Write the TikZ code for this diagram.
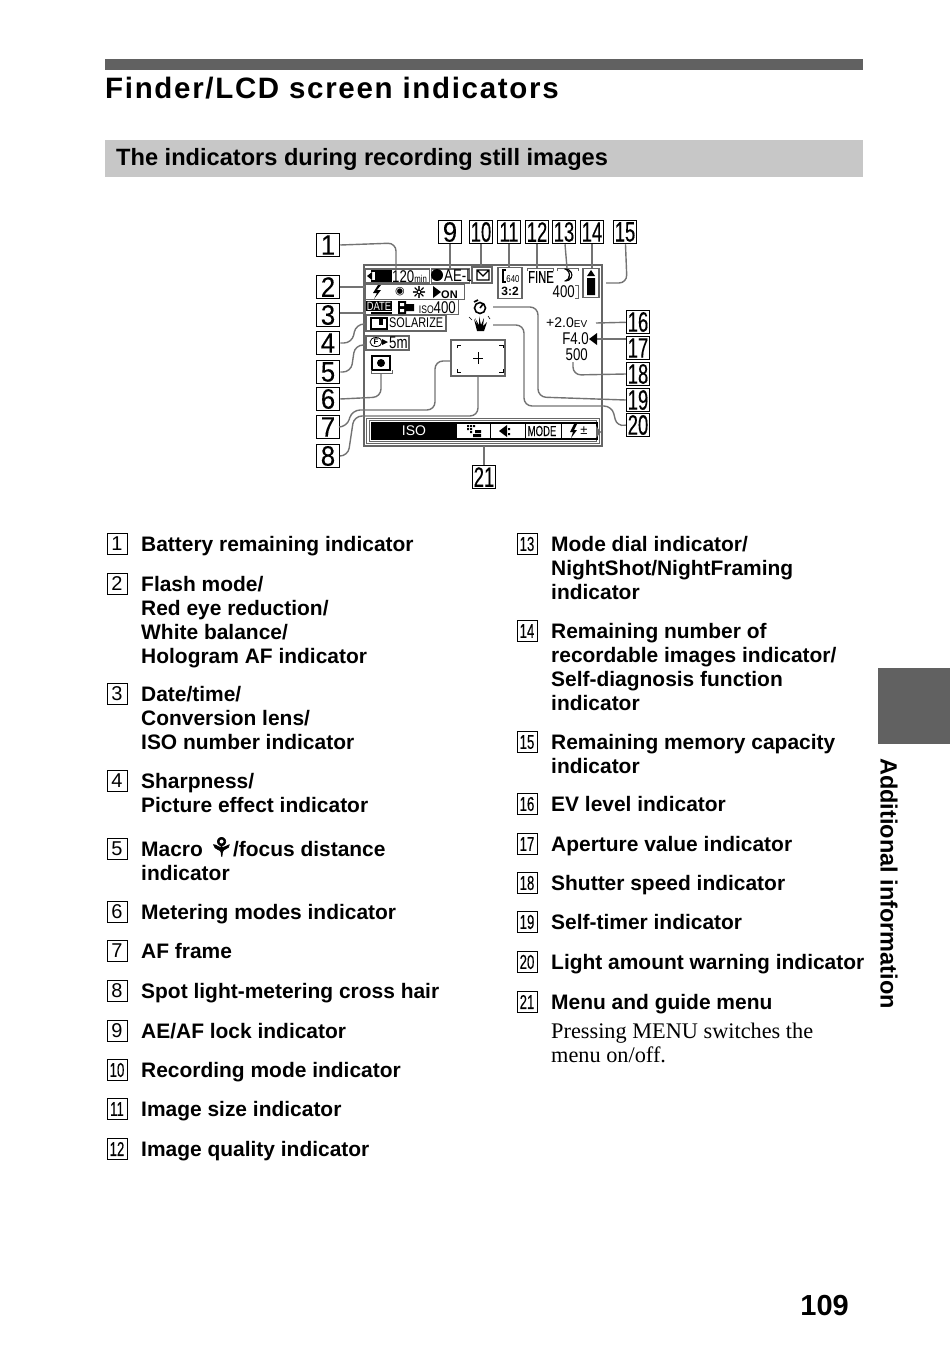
\documentclass[tikz,border=0pt]{standalone}
\usepackage{fontspec}
\setmainfont{Liberation Sans}
\newfontfamily\serfont{Liberation Serif}
\newfontfamily\onefont[FakeStretch=0.92,FakeBold=0.2]{Liberation Sans}
\newfontfamily\twofont[FakeStretch=0.66,FakeBold=0.2]{Liberation Sans}
\newfontfamily\numfont[FakeStretch=0.78]{Liberation Sans}
\newfontfamily\symfont{DejaVu Sans}
\newfontfamily\symbold[FakeBold=2.5]{DejaVu Sans}
\usetikzlibrary{positioning,shapes.geometric}
\definecolor{leader}{gray}{0.45}
\definecolor{lcdline}{gray}{0.4}
\tikzset{
callout/.style={draw=black,line width=1.5pt,fill=white,minimum width=23pt,minimum height=23pt,inner sep=0pt,font=\onefont\fontsize{28}{28}\selectfont},
calloutw/.style={callout,font=\twofont\fontsize{28}{28}\selectfont},
marker/.style={draw=black,line width=0.9pt,minimum width=20pt,minimum height=21pt,inner sep=0pt,font=\fontsize{20}{20}\selectfont},
markerw/.style={marker,font=\twofont\fontsize{20}{20}\selectfont},
item/.style={anchor=north west,inner sep=0pt,align=left,font=\bfseries\fontsize{20.95}{24}\selectfont},
lcd/.style={inner sep=0pt,font=\numfont\fontsize{17}{17}\selectfont},
leaderline/.style={draw=leader,line width=1.4pt,rounded corners=8pt},
lcdbox/.style={draw=lcdline,line width=1.2pt,minimum width=0pt,inner sep=0pt},
}
\begin{document}
\begin{tikzpicture}[x=1pt,y=-1pt]
\useasboundingbox (0,0) rectangle (950,1353);
% heading
\fill[black!62] (105,59) rectangle (863,70);
\node[anchor=base west,inner sep=0pt,font=\bfseries\fontsize{29.5}{30}\selectfont] (title) at (105,98) {\addfontfeature{LetterSpace=5.7}Finder/LCD screen indicators};
\fill[black!22] (105,140) rectangle (863,177);
\node[anchor=base west,inner sep=0pt,font=\bfseries\fontsize{23.6}{24}\selectfont] (subtitle) at (116,165) {The indicators during recording still images};
% side tab
\fill[black!62] (878,668) rectangle (950,744);
\node[rotate=-90,anchor=west,inner sep=0pt,font=\bfseries\fontsize{23.5}{24}\selectfont] (sidetab) at (889,758) {Additional information};
\node[anchor=base east,inner sep=0pt,font=\bfseries\fontsize{29}{29}\selectfont] (pagenum) at (849,1315) {109};
% screen
\draw[lcdline,line width=1.4pt] (364,265) rectangle (602,446);
% callouts
\node[callout] (c1) at (328,245) {1};
\node[callout] (c2) at (328,287) {2};
\node[callout] (c3) at (328,315) {3};
\node[callout] (c4) at (328,343) {4};
\node[callout] (c5) at (328,372) {5};
\node[callout] (c6) at (328,399) {6};
\node[callout] (c7) at (328,427) {7};
\node[callout] (c8) at (328,456) {8};
\node[callout] (c9) at (450,232) {9};
\node[calloutw] (c10) at (481,232) {10};
\node[calloutw] (c11) at (509,232) {11};
\node[calloutw] (c12) at (537,232) {12};
\node[calloutw] (c13) at (564,232) {13};
\node[calloutw] (c14) at (592,232) {14};
\node[calloutw] (c15) at (625,232) {15};
\node[calloutw] (c16) at (638,322) {16};
\node[calloutw] (c17) at (638,348) {17};
\node[calloutw] (c18) at (638,374) {18};
\node[calloutw] (c19) at (638,400) {19};
\node[calloutw] (c20) at (638,425) {20};
\node[calloutw] (c21) at (484,477) {21};
% leaders
\coordinate (e1) at (396,268);
\coordinate (e2) at (366,287);
\coordinate (e3) at (366,313);
\coordinate (e4) at (366,324);
\coordinate (e5) at (366,345);
\coordinate (e6) at (381,373);
\coordinate (e7) at (452,361);
\coordinate (e8) at (478,371);
\coordinate (e15) at (606,283);
\coordinate (e17) at (597,339);
\draw[leaderline] (c1.east) -- (396,243) -- (e1);
\draw[leaderline] (c2) -- (e2);
\draw[leaderline] (c3.east |- e3) -- (e3);
\draw[leaderline] (c4.east) -- (352,343) -- (356,324) -- (e4);
\draw[leaderline] (c5.east) -- (351,372) -- (355,345) -- (e5);
\draw[leaderline] (c6.east) -- (381,397) -- (e6);
\draw[leaderline] (c7.east) -- (347,427) -- (352,410) -- (435,410) -- (435,361) -- (e7);
\draw[leaderline] (c8.east) -- (348,456) -- (354,416) -- (478,416) -- (e8);
\draw[leaderline] (c9) -- (450,269);
\draw[leaderline] (c10) -- (481,267);
\draw[leaderline] (c11) -- (509,267);
\draw[leaderline] (c12) -- (537,268);
\draw[leaderline] (c13) -- (567,268);
\draw[leaderline] (c14) -- (592,268);
\draw[leaderline] (c15) -- (627,283) -- (e15);
\draw[leaderline] (c16) -- (596,323);
\draw[leaderline] (c17.west |- e17) -- (e17);
\draw[leaderline] (c18.west) -- (573,375) -- (573,362);
\draw[leaderline] (c19.west) -- (538,397) -- (538,307) -- (493,307);
\draw[leaderline] (c20.west) -- (617,427) -- (612,406) -- (524,406) -- (524,325) -- (493,325);
\draw[leaderline] (c21) -- (484,446);
% top row
\node[lcdbox,fill=white,minimum width=64pt,minimum height=14pt,anchor=west] (battery) at (365,276) {};
\draw[black,line width=1.2pt] (371,271) -- (391,271) -- (391,281) -- (371,281);
\fill[black] (375,272) rectangle (391,281) (367,276) -- (372,272) -- (372,280) -- cycle;
\node[lcd,anchor=west] (mins) at (392,277) {120\fontsize{10}{10}\selectfont min};
\node[lcdbox,fill=white,minimum width=38pt,minimum height=14pt,anchor=west] (aelock) at (431,276) {};
\fill[black] (437,275) circle (6pt);
\node[lcd,anchor=west] (aetext) at (444,276) {AE-L};
\node[lcdbox,fill=white,minimum width=20pt,minimum height=16pt] (recmode) at (482,275) {};
\draw[black,line width=1.2pt] (477,270) rectangle (489,280) (477,270) -- (483,276) -- (489,270);
\node[lcdbox,fill=white,minimum width=24pt,minimum height=31pt] (imgsize) at (510,283) {};
\draw[black,line width=1.4pt] (506,270) -- (503,270) -- (503,282) -- (506,282);
\node[lcd,font=\numfont\fontsize{10}{10}\selectfont] (sizenum) at (513,279) {640};
\node[lcd,font=\bfseries\fontsize{12}{12}\selectfont] (ratio) at (510,291) {3:2};
\draw[lcdline,line width=1pt] (527,271) -- (527,268) -- (553,268) -- (553,271) (557,271) -- (557,268) -- (578,268) -- (578,271);
\node[lcd,anchor=west,font=\twofont\fontsize{17}{17}\selectfont] (fine) at (528,277) {FINE};
\node[lcd,font=\symbold\fontsize{17}{17}\selectfont] (moon) at (566,275) {\char"263D};
\node[lcd,anchor=east] (remain) at (575,292) {400};
\draw[lcdline,line width=1pt] (575,285) -- (578,285) -- (578,298) -- (575,298);
\node[lcdbox,fill=white,minimum width=16pt,minimum height=29pt] (batt) at (591,283) {};
\fill[black] (587,278) rectangle (595,295) (591,270) -- (587,276) -- (595,276) -- cycle;
% second and third rows
\node[lcdbox,fill=white,minimum width=99pt,minimum height=15pt] (modes) at (415,292) {};
\fill[black] (378,285) -- (373,293) -- (377,293) -- (374,299) -- (381,290) -- (377,290) -- (381,285) -- cycle;
\node[lcd,font=\symfont\fontsize{11}{11}\selectfont] (redeye) at (400,292) {\char"25C9};
\node[lcd,font=\symbold\fontsize{16}{16}\selectfont] (wbal) at (419,292) {\char"263C};
\fill[black] (433,286) -- (441,292) -- (433,298) -- cycle;
\node[lcd,font=\bfseries\fontsize{11}{11}\selectfont,anchor=west] (holoaf) at (441,295) {ON};
\node[lcdbox,fill=white,minimum width=93pt,minimum height=15pt] (daterow) at (412,307) {};
\node[fill=black,text=white,inner sep=1pt,minimum width=26pt,font=\numfont\fontsize{12}{12}\selectfont] (date) at (379,306) {DATE};
\draw[black,line width=1.2pt] (371,313) -- (392,313);
\fill[black] (398,301) rectangle (406,314) (406,304) rectangle (414,311);
\fill[white] (400,303) rectangle (404,306) (400,309) rectangle (404,312);
\node[lcd,anchor=east] (iso) at (456,308) {\fontsize{11}{11}\selectfont ISO\fontsize{17}{17}\selectfont 400};
\node[lcdbox,fill=white,minimum width=80pt,minimum height=16pt] (effect) at (406,323) {};
\node[lcd,anchor=west,font=\numfont\fontsize{14}{14}\selectfont] (solar) at (389,323) {SOLARIZE};
\draw[black,line width=1.2pt] (371,318) rectangle (387,329);
\fill[black] (379,318) rectangle (383,325);
\node[lcdbox,fill=white,minimum width=43pt,minimum height=14pt] (macro) at (387.5,343) {};
\node[draw=black,ellipse,line width=0.8pt,inner sep=0pt,minimum width=12pt,minimum height=9pt,font=\bfseries\fontsize{8}{8}\selectfont] (macrof) at (376,342) {F};
\fill[black] (382,339) -- (388,342) -- (382,345) -- cycle;
\node[lcd,anchor=west] (dist) at (389,343) {5m};
% metering and frame
\node[lcdbox,fill=white,draw=black,line width=1.4pt,minimum width=18pt,minimum height=14pt] (meter) at (381,363) {};
\draw[lcdline,line width=1pt] (371,370) -- (371,373) -- (392,373) -- (392,370);
\fill[black] (381,363) circle (4pt);
\node[lcdbox,fill=white,minimum width=54pt,minimum height=36pt] (afframe) at (478,358) {};
\draw[black,line width=1pt] (473,358) -- (483,358) (478,352) -- (478,364);
\draw[black,line width=1pt] (457,348) -- (457,345) -- (461,345) (499,345) -- (503,345) -- (503,348) (457,369) -- (457,372) -- (461,372) (499,372) -- (503,372) -- (503,369);
% self-timer and shake
\draw[black,line width=1.6pt] (480,308) circle (5.5pt) (480,308) -- (483,304) (474,302) -- (478,300);
\fill[black] (474,319) -- (478,326) -- (475,318) -- (479,325) -- (479,316) -- (481,325) -- (484,318) -- (483,326) -- (487,322) -- (484,331) -- (477,331) -- cycle;
\draw[black,line width=0.6pt] (469,317) -- (472,320) (488,316) -- (490,319);
% right side values
\node[lcd,anchor=west,font=\fontsize{14}{14}\selectfont] (ev) at (546,323) {+2.0\fontsize{10}{10}\selectfont EV};
\node[lcd,anchor=east] (aperture) at (589,339) {F4.0};
\fill[black] (589,339) -- (597,333) -- (597,345) -- cycle;
\node[lcd,anchor=east] (shutter) at (588,355) {500};
% menu
\node[lcdbox,double,double distance=1.5pt,minimum width=230pt,minimum height=23pt] (menu) at (483,431) {};
\draw[black,line width=1.2pt] (372,423) rectangle (597,439);
\node[fill=black,text=white,minimum width=84pt,minimum height=16pt,inner sep=0pt,font=\fontsize{14}{14}\selectfont] (isotab) at (414,431) {ISO};
\fill[black] (467,425) rectangle (469,427) (470,425) rectangle (472,427) (473,425) rectangle (475,427) (467,428) rectangle (469,430) (470,428) rectangle (472,430) (470,431) rectangle (472,433) (475,430) rectangle (481,433) (473,434) rectangle (481,437);
\fill[black] (499,431) -- (507,425) -- (507,437) -- cycle (508,428) rectangle (510,430) (508,433) rectangle (510,435);
\node[lcd,font=\twofont\fontsize{14.5}{15}\selectfont] (modetab) at (542,431) {MODE};
\fill[black] (574,424) -- (570,432) -- (573,432) -- (571,438) -- (577,430) -- (574,430) -- (577,424) -- cycle;
\node[lcd,font=\fontsize{13}{13}\selectfont] (flashtab) at (584,431) {\char"00B1};
\draw[black,line width=1pt] (456,423) -- (456,439) (490,423) -- (490,439) (525,423) -- (525,439) (561,423) -- (561,439);
\fill[black!60] (596,426) -- (601,432) -- (596,438) -- cycle;
% left column
\node[marker] (m1) at (117,544) {1};
\node[item] (t1) at (141,536) {Battery remaining indicator};
\node[marker] (m2) at (117,584) {2};
\node[item] (t2) at (141,576) {Flash mode/\\Red eye reduction/\\White balance/\\Hologram AF indicator};
\node[marker] (m3) at (117,694) {3};
\node[item] (t3) at (141,686) {Date/time/\\Conversion lens/\\ISO number indicator};
\node[marker] (m4) at (117,781) {4};
\node[item] (t4) at (141,773) {Sharpness/\\Picture effect indicator};
\node[marker] (m5) at (117,849) {5};
\node[item] (t5) at (141,841) {Macro \kern1pt\smash{\symbold\fontsize{26}{24}\selectfont\char"2698}/focus distance\\indicator};
\node[marker] (m6) at (117,912) {6};
\node[item] (t6) at (141,904) {Metering modes indicator};
\node[marker] (m7) at (117,951) {7};
\node[item] (t7) at (141,943) {AF frame};
\node[marker] (m8) at (117,991) {8};
\node[item] (t8) at (141,983) {Spot light-metering cross hair};
\node[marker] (m9) at (117,1031) {9};
\node[item] (t9) at (141,1023) {AE/AF lock indicator};
\node[markerw] (m10) at (117,1070) {10};
\node[item] (t10) at (141,1062) {Recording mode indicator};
\node[markerw] (m11) at (117,1109) {11};
\node[item] (t11) at (141,1101) {Image size indicator};
\node[markerw] (m12) at (117,1149) {12};
\node[item] (t12) at (141,1141) {Image quality indicator};
% right column
\node[markerw] (m13) at (527,544) {13};
\node[item] (t13) at (551,536) {Mode dial indicator/\\NightShot/NightFraming\\indicator};
\node[markerw] (m14) at (527,631) {14};
\node[item] (t14) at (551,623) {Remaining number of\\recordable images indicator/\\Self-diagnosis function\\indicator};
\node[markerw] (m15) at (527,742) {15};
\node[item] (t15) at (551,734) {Remaining memory capacity\\indicator};
\node[markerw] (m16) at (527,804) {16};
\node[item] (t16) at (551,796) {EV level indicator};
\node[markerw] (m17) at (527,844) {17};
\node[item] (t17) at (551,836) {Aperture value indicator};
\node[markerw] (m18) at (527,883) {18};
\node[item] (t18) at (551,875) {Shutter speed indicator};
\node[markerw] (m19) at (527,922) {19};
\node[item] (t19) at (551,914) {Self-timer indicator};
\node[markerw] (m20) at (527,962) {20};
\node[item] (t20) at (551,954) {Light amount warning indicator};
\node[markerw] (m21) at (527,1002) {21};
\node[item] (t21) at (551,994) {Menu and guide menu};
\node[item,font=\serfont\fontsize{22.3}{24}\selectfont] (t22) at (551,1023) {Pressing MENU switches the\\menu on/off.};
\end{tikzpicture}
\end{document}
